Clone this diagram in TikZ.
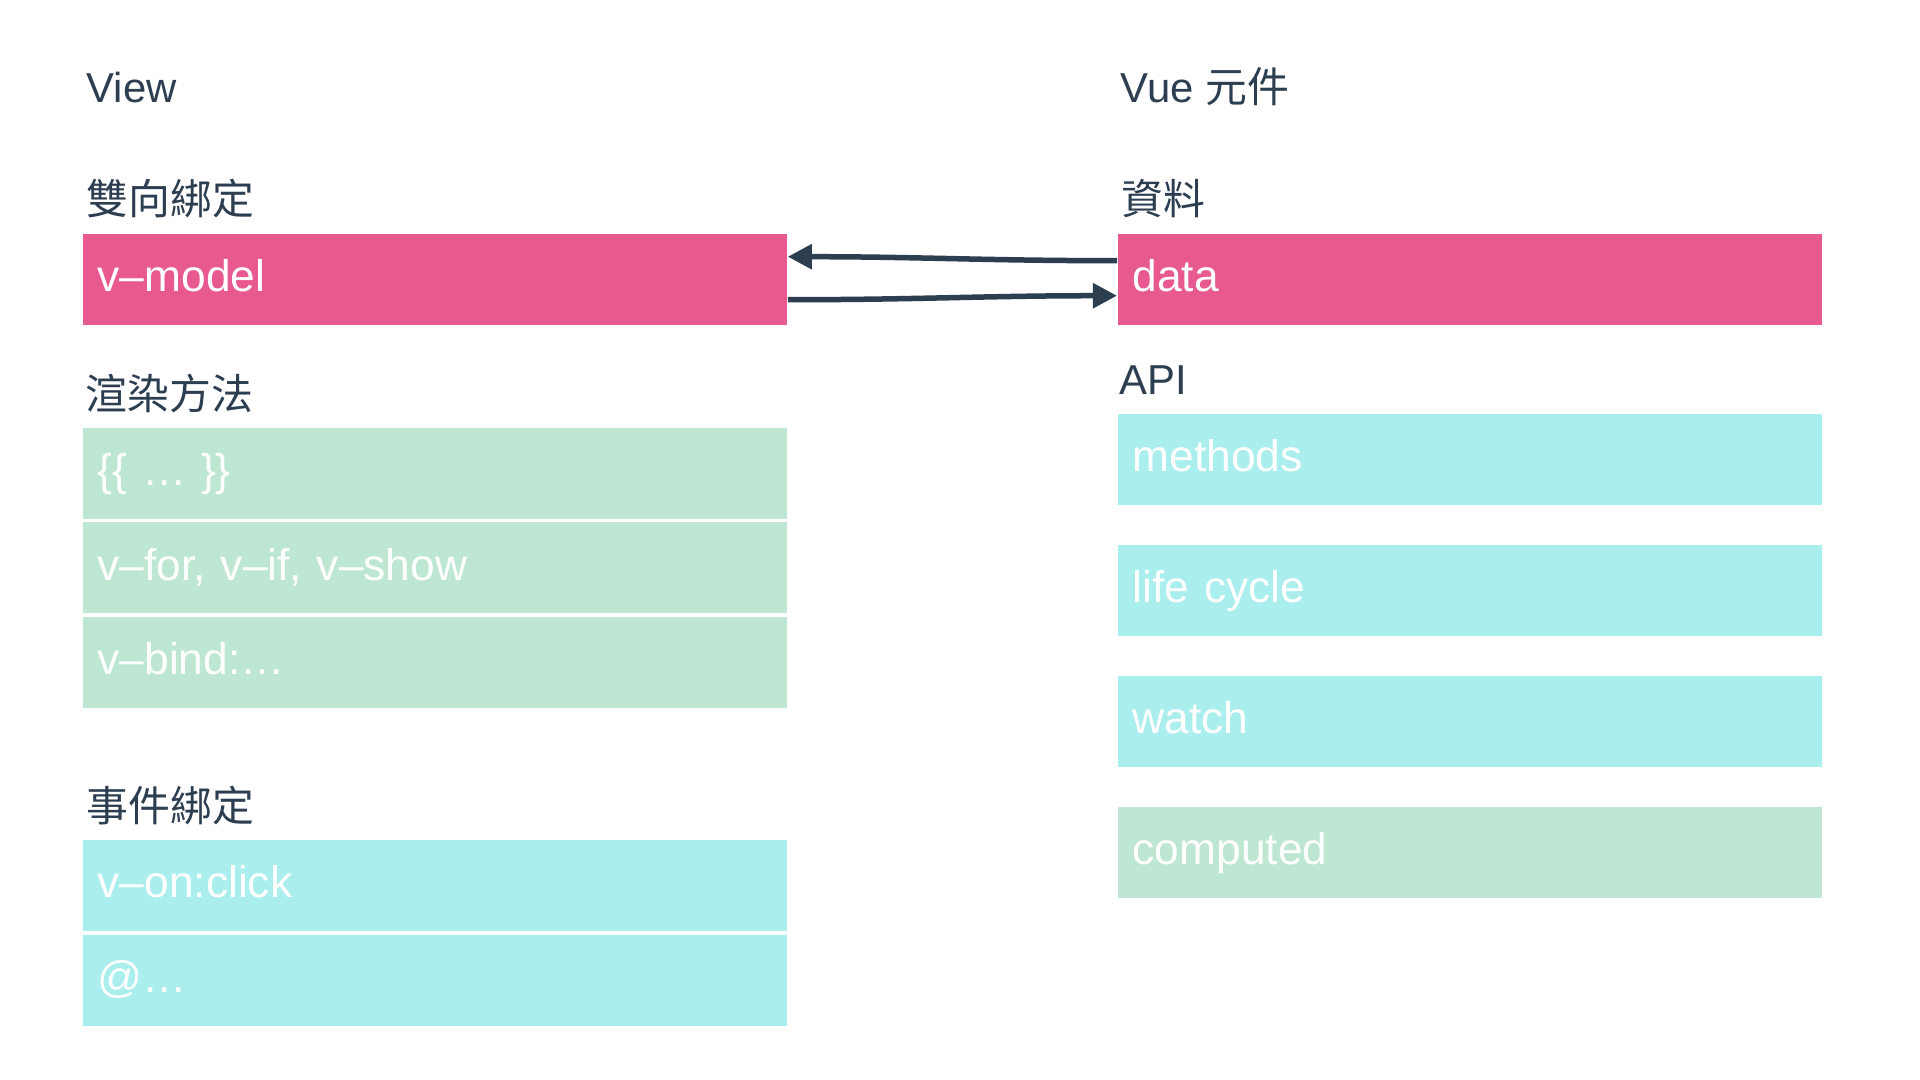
\documentclass[tikz,border=0pt]{standalone}
\usepackage{fontspec}
\usepackage{xcolor}
\setmainfont{Liberation Sans}
\newfontfamily\cjk{Noto Sans CJK TC}
\usetikzlibrary{arrows.meta}

\definecolor{vuedark}{HTML}{2C3E50}
\definecolor{rosebox}{HTML}{E8598F}
\definecolor{mintbox}{HTML}{BDE7D3}
\definecolor{aquabox}{HTML}{AAEEEE}

\tikzset{
        heading/.style={anchor=base west, inner sep=0pt, text=vuedark, font=\fontsize{11.9}{14}\selectfont},
        item/.style={anchor=north west, minimum height=0.91cm, text width=6.74cm, inner xsep=0.15cm, inner ysep=0pt,
                align=left, text=white, text height=0.85em, text depth=0.15em, font=\fontsize{12.6}{14}\selectfont},
        rose/.style={item, fill=rosebox},
        mint/.style={item, fill=mintbox},
        aqua/.style={item, fill=aquabox},
        link/.style={draw=vuedark, line width=0.055cm, -{Triangle[length=0.24cm,width=0.24cm]}}
}

\begin{document}
\begin{tikzpicture}[x=0.01cm, y=-0.01cm]
        \useasboundingbox (0,0) rectangle (1920,1080);
        \fill[white] (0,0) rectangle (1920,1080);
        \node[heading](view) at (86,103) {View};
        \node[heading](vue) at (1120,103) {Vue {\cjk 元件}};
        \node[heading](twoway) at (86,215) {\cjk 雙向綁定};
        \node[heading](datahd) at (1121,215) {\cjk 資料};
        \node[heading](render) at (85,410) {\cjk 渲染方法};
        \node[heading](api) at (1119,395) {API};
        \node[heading](events) at (86,822) {\cjk 事件綁定};
        \node[rose](vmodel) at (82,233) {v–model};
        \node[mint](mustache) at (82,427) {\{\{ … \}\}};
        \node[mint](vfor) at (82,521.5) {v–for, v–if, v–show};
        \node[mint](vbind) at (82,616) {v–bind:…};
        \node[aqua](vonclick) at (82,839) {v–on:click};
        \node[aqua](atevent) at (82,934) {@…};
        \node[rose](data) at (1117,233) {data};
        \node[aqua](methods) at (1117,413) {methods};
        \node[aqua](lifecycle) at (1117,544) {life cycle};
        \node[aqua](watch) at (1117,675) {watch};
        \node[mint](computed) at (1117,806) {computed};
        \draw[link]([yshift=0.185cm]data.west) to[out=180,in=0] ([yshift=0.225cm]vmodel.east);
        \draw[link]([yshift=-0.205cm]vmodel.east) to[out=0,in=180] ([yshift=-0.165cm]data.west);
        \end{tikzpicture}
\end{document}
